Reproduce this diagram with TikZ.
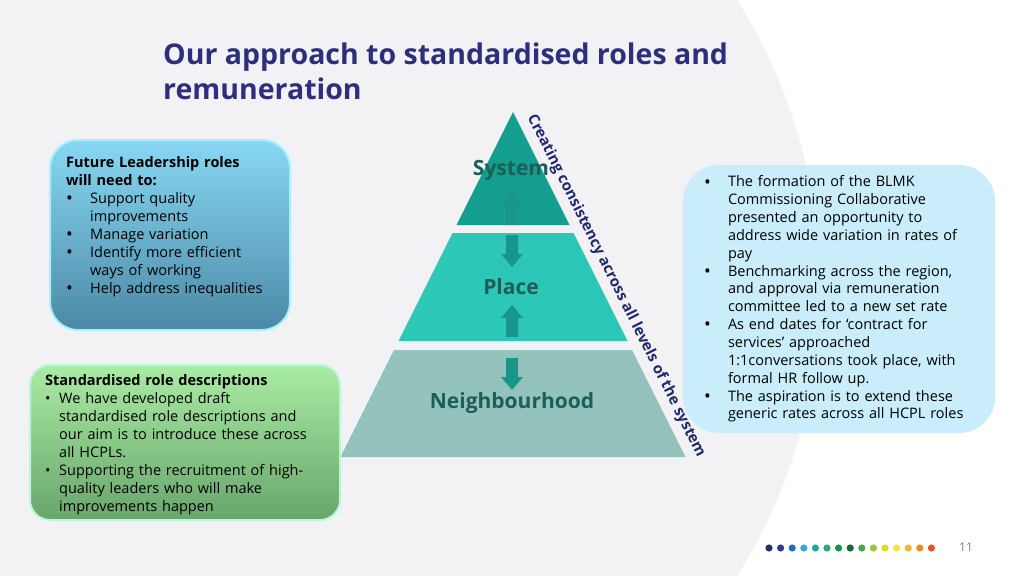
\documentclass[tikz,border=0pt]{standalone}
\usepackage{fontspec}
\setmainfont{Open Sans}
\usepackage{enumitem}
\setlist[itemize]{nosep, label=\textbullet, align=left, labelsep=0pt, itemindent=0pt}
\newcommand{\bigdot}{\raisebox{-1.2pt}{\fontsize{18}{18}\selectfont\textbullet}}
\usetikzlibrary{positioning}

\definecolor{bggrey}{HTML}{F2F2F4}
\definecolor{titlenavy}{HTML}{2D2F7E}
\definecolor{slantnavy}{HTML}{1F2A6E}
\definecolor{tierA}{HTML}{149E8F}
\definecolor{tierB}{HTML}{2DC7B7}
\definecolor{tierC}{HTML}{94C3BD}
\definecolor{tierlabel}{HTML}{1D5E56}
\definecolor{arrowteal}{HTML}{18968A}
\definecolor{leadtop}{HTML}{88D8F3}
\definecolor{leadbot}{HTML}{4B89A6}
\definecolor{leadrim}{HTML}{A6F0FF}
\definecolor{greentop}{HTML}{A9ECA4}
\definecolor{greenbot}{HTML}{69A56B}
\definecolor{greenrim}{HTML}{B9F6DC}
\definecolor{paybox}{HTML}{C9EDFB}
\definecolor{pagegrey}{HTML}{808080}
\definecolor{dotA}{HTML}{2B2D6E}
\definecolor{dotB}{HTML}{2B3A8A}
\definecolor{dotC}{HTML}{1B73C0}
\definecolor{dotD}{HTML}{35A8E0}
\definecolor{dotE}{HTML}{1CA9A0}
\definecolor{dotF}{HTML}{2BAA7A}
\definecolor{dotG}{HTML}{17944A}
\definecolor{dotH}{HTML}{0E6B3A}
\definecolor{dotI}{HTML}{43A843}
\definecolor{dotJ}{HTML}{9DC43A}
\definecolor{dotK}{HTML}{E3D91E}
\definecolor{dotL}{HTML}{F4E340}
\definecolor{dotM}{HTML}{F5B530}
\definecolor{dotN}{HTML}{EE8A1E}
\definecolor{dotO}{HTML}{E65224}

\tikzset{
  bodytext/.style={anchor=north west, inner sep=0pt, align=left,
    font=\fontsize{14.5}{18}\selectfont},
  tierlbl/.style={text=tierlabel, font=\bfseries\fontsize{21}{24}\selectfont},
  blockup/.pic={
    \fill[arrowteal] (-6,16) -- (-6,-3) -- (-11,-3) -- (0,-16) -- (11,-3) -- (6,-3) -- (6,16) -- cycle;
  }
}

\begin{document}
\begin{tikzpicture}[x=1pt, y=-1pt]
    \useasboundingbox (0,0) rectangle (1024,575);
    \fill[white] (0,0) rectangle (1024,575);
    \begin{scope}
        \clip (0,0) rectangle (1024,575);
        \fill[bggrey] (279,288) circle (541pt);
    \end{scope}

    % title
    \node[anchor=north west, inner sep=0pt, align=left, text=titlenavy,
          font=\bfseries\fontsize{28.5}{35}\selectfont] (title) at (163,43)
          {Our approach to standardised roles and\\remuneration};

    % pyramid, one trapezoid per level
    \foreach \top/\bot/\col in {112/225/tierA, 233/341/tierB, 350/457/tierC}
        \fill[\col] ({513-(\top-112)/2},\top) -- ({513+(\top-112)/2},\top)
            -- ({513+(\bot-112)/2},\bot) -- ({513-(\bot-112)/2},\bot) -- cycle;
    \node[tierlbl] (system) at (511,170) {System};
    \node[tierlbl] (place) at (511,287) {Place};
    \node[tierlbl] (hood) at (512,403) {Neighbourhood};
    \pic at (512,209) {blockup};
    \pic[rotate=180] at (512,251) {blockup};
    \pic at (512,321) {blockup};
    \pic[rotate=180] at (512,374) {blockup};
    \node[rotate=-63.43, text=slantnavy, inner sep=0pt,
          font=\bfseries\fontsize{15}{16}\selectfont] (slant) at (616,286)
          {Creating consistency across all levels of the system};

    % left boxes
    \node[draw=leadrim, line width=2pt, rounded corners=28pt, top color=leadtop,
          bottom color=leadbot, minimum width=240pt, minimum height=190pt] (lead) at (170,235) {};
    \node[bodytext, text width=220pt] (leadtxt) at ([shift={(17,17)}]lead.north west)
        {\textbf{Future Leadership roles}\\\textbf{will need to:}
         \begin{itemize}[leftmargin=24pt, labelwidth=24pt, label=\bigdot]
           \item Support quality\\improvements
           \item Manage variation
           \item Identify more efficient\\ways of working
           \item Help address inequalities
         \end{itemize}};

    \node[draw=greenrim, line width=2pt, rounded corners=20pt, top color=greentop,
          bottom color=greenbot, minimum width=310pt, minimum height=155pt] (roles) at (185,442.5) {};
    \node[bodytext, text width=292pt] (rolestxt) at ([shift={(16,10)}]roles.north west)
        {\textbf{Standardised role descriptions}
         \begin{itemize}[leftmargin=14pt, labelwidth=14pt]
           \item We have developed draft\\standardised role descriptions and\\our aim is to introduce these across\\all HCPLs.
           \item Supporting the recruitment of high-\\quality leaders who will make\\improvements happen
         \end{itemize}};

    % right box
    \node[fill=paybox, rounded corners=36pt, minimum width=312pt, minimum height=268pt] (pay) at (839,299) {};
    \node[bodytext, text width=288pt, font=\fontsize{14.5}{17.85}\selectfont] (paytxt)
        at ([shift={(21,4)}]pay.north west)
        {\begin{itemize}[leftmargin=24pt, labelwidth=24pt, label=\bigdot]
           \item The formation of the BLMK\\Commissioning Collaborative\\presented an opportunity to\\address wide variation in rates of\\pay
           \item Benchmarking across the region,\\and approval via remuneration\\committee led to a new set rate
           \item As end dates for ‘contract for\\services’ approached\\1:1conversations took place, with\\formal HR follow up.
           \item The aspiration is to extend these\\generic rates across all HCPL roles
         \end{itemize}};

    % footer
    \foreach \c [count=\i from 0] in {dotA,dotB,dotC,dotD,dotE,dotF,dotG,dotH,dotI,dotJ,dotK,dotL,dotM,dotN,dotO}
        \fill[\c] ({769+\i*11.6},548) circle (3.6pt);
    \node[text=pagegrey, font=\fontsize{12}{14}\selectfont] (pagenum) at (966,547) {11};
\end{tikzpicture}
\end{document}
